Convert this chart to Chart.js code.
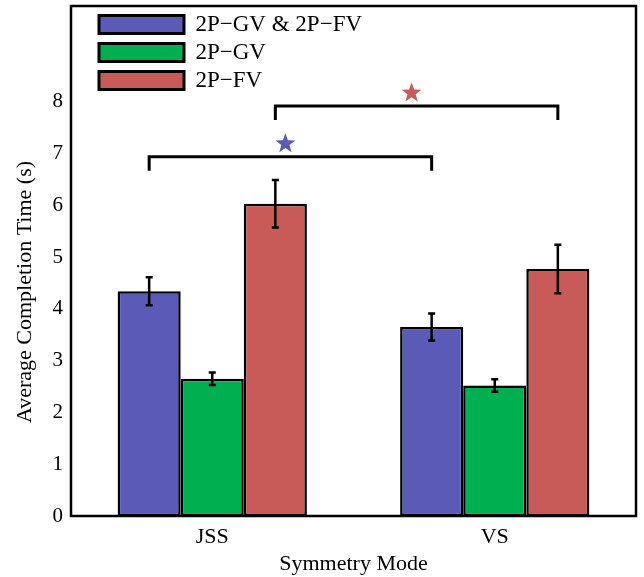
<!DOCTYPE html>
<html>
<head>
<meta charset="utf-8">
<script src="https://cdn.jsdelivr.net/npm/chart.js@4.4.1/dist/chart.umd.min.js"></script>
<style>
  html, body { margin: 0; padding: 0; background: #fff; }
  #wrap { width: 644px; height: 577px; }
</style>
</head>
<body>
<div id="wrap"><canvas id="chart" width="644" height="577"></canvas></div>
<script>
const categories = ['JSS', 'VS'];
const seriesNames = ['2P\u2212GV & 2P\u2212FV', '2P\u2212GV', '2P\u2212FV'];
const seriesColors = ['#5b5bb7', '#00b050', '#c85b57'];
const bothMeans = [4.34, 3.65];
const gvMeans = [2.65, 2.52];
const fvMeans = [6.03, 4.77];
const bothErr = [0.27, 0.26];
const gvErr = [0.12, 0.12];
const fvErr = [0.46, 0.47];
const yTicks = [0, 1, 2, 3, 4, 5, 6, 7, 8];

// significance brackets: series joined, bracket level, drop length, star level
const sigSeries = [0, 2];
const sigLevel = [6.94, 7.92];
const sigDrop = [0.27, 0.27];
const sigStar = [7.19, 8.17];

const FONT = "'Liberation Serif', 'Times New Roman', serif";
const errs = [bothErr, gvErr, fvErr];

function star(ctx, cx, cy, R, r) {
    ctx.beginPath();
    for (let i = 0; i < 10; i++) {
        const a = -Math.PI / 2 + i * Math.PI / 5;
        const rad = i % 2 ? r : R;
        ctx.lineTo(cx + rad * Math.cos(a), cy + rad * Math.sin(a));
    }
    ctx.closePath();
    ctx.fill();
}

const overlay = {
    id: 'overlay',
    afterLayout(chart) {
        // the y label sits a little below the middle of the axis in the original
        chart.scales.y.bottom += 62;
        const lg = chart.legend;
        lg.left = chart.chartArea.left + 23;
        lg.top = chart.chartArea.top + 2;
    },
    afterDatasetsDraw(chart) {
        const ctx = chart.ctx;
        const ys = chart.scales.y;
        ctx.save();
        ctx.strokeStyle = '#000';
        ctx.lineWidth = 2.5;

        // error bars
        errs.forEach((e, di) => {
            chart.getDatasetMeta(di).data.forEach((bar, j) => {
                const v = chart.data.datasets[di].data[j];
                const t = ys.getPixelForValue(v + e[j]);
                const b = ys.getPixelForValue(v - e[j]);
                ctx.beginPath();
                ctx.moveTo(bar.x, t); ctx.lineTo(bar.x, b);
                ctx.moveTo(bar.x - 3.5, t); ctx.lineTo(bar.x + 3.5, t);
                ctx.moveTo(bar.x - 3.5, b); ctx.lineTo(bar.x + 3.5, b);
                ctx.stroke();
            });
        });

        // brackets + stars
        ctx.lineWidth = 3;
        sigSeries.forEach((di, k) => {
            const bars = chart.getDatasetMeta(di).data;
            const x0 = bars[0].x, x1 = bars[1].x;
            const yl = ys.getPixelForValue(sigLevel[k]);
            const yd = ys.getPixelForValue(sigLevel[k] - sigDrop[k]);
            ctx.beginPath();
            ctx.moveTo(x0, yd); ctx.lineTo(x0, yl); ctx.lineTo(x1, yl); ctx.lineTo(x1, yd);
            ctx.stroke();
            ctx.fillStyle = seriesColors[di];
            star(ctx, (x0 + x1) / 2 - 5, ys.getPixelForValue(sigStar[k]), 10.5, 4.3);
        });

        // box around the axes
        const a = chart.chartArea;
        ctx.lineWidth = 2.5;
        ctx.strokeRect(a.left, a.top, a.right - a.left, a.bottom - a.top);
        ctx.restore();
    }
};

new Chart(document.getElementById('chart'), {
    type: 'bar',
    data: {
        labels: categories,
        datasets: [bothMeans, gvMeans, fvMeans].map((d, i) => ({
            label: seriesNames[i],
            data: d,
            backgroundColor: seriesColors[i],
            borderColor: '#000',
            borderWidth: 2.5,
            borderSkipped: false,
            categoryPercentage: 0.67,
            barPercentage: 1.0
        }))
    },
    options: {
        responsive: false,
        animation: false,
        layout: { padding: { top: 6, right: 8, left: 0, bottom: 0 } },
        plugins: {
            legend: {
                position: 'chartArea',
                align: 'start',
                labels: {
                    boxWidth: 85,
                    boxHeight: 18,
                    padding: 5,
                    color: '#000',
                    font: { family: FONT, size: 23 },
                    generateLabels(chart) {
                        const items = Chart.defaults.plugins.legend.labels.generateLabels(chart);
                        items.forEach(it => { it.lineWidth = 3; it.strokeStyle = '#000'; });
                        return items;
                    }
                }
            },
            tooltip: { enabled: false }
        },
        scales: {
            x: {
                grid: { display: false, drawTicks: false },
                border: { display: false },
                ticks: { color: '#000', font: { family: FONT, size: 22 }, padding: 8 },
                title: { display: true, text: 'Symmetry Mode', color: '#000', font: { family: FONT, size: 22 }, padding: { top: 0, bottom: 0 } },
                afterFit: s => { s.height = 61; s.paddingLeft = 0; s.paddingRight = 0; }
            },
            y: {
                min: 0,
                max: 9.85,
                afterBuildTicks: s => { s.ticks = yTicks.map(v => ({ value: v })); },
                grid: { display: false, drawTicks: false },
                border: { display: false },
                ticks: { color: '#000', font: { family: FONT, size: 21 }, padding: 8 },
                title: { display: true, text: 'Average Completion Time (s)', color: '#000', font: { family: FONT, size: 22 }, padding: { top: 12, bottom: 0 } },
                afterFit: s => { s.width = 71; s.paddingTop = 0; s.paddingBottom = 0; }
            }
        }
    },
    plugins: [overlay]
});
</script>
</body>
</html>
